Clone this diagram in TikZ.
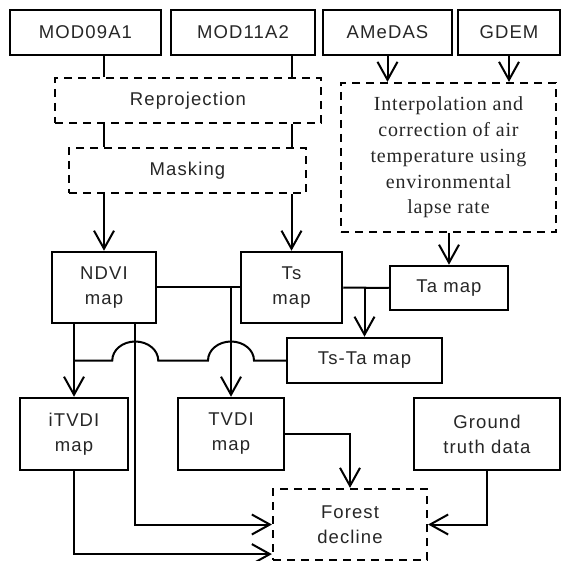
\documentclass[tikz,border=0pt]{standalone}
\usepackage{fontspec}
\setmainfont{Liberation Sans}[LetterSpace=6]
\newfontfamily\interpfont{Liberation Serif}[LetterSpace=4]
\usetikzlibrary{arrows.meta}

\begin{document}
\begin{tikzpicture}[x=1pt,y=-1pt,
    every node/.style={font=\fontsize{18.5}{25}\selectfont,align=center,inner sep=0pt,text=black!85},
    box/.style={draw,line width=2.5pt,minimum height=45pt},
    dbox/.style={box,line width=2.2pt,dash pattern=on 8pt off 6pt},
    link/.style={line width=2pt},
    arr/.style={link,-{Straight Barb[length=18pt,width=20pt]}}]

    \useasboundingbox (0,0) rectangle (562,561);

    \node[box,minimum width=151pt] (mod09) at (85.5,32.5) {MOD09A1};
    \node[box,minimum width=144pt] (mod11) at (243,32.5) {MOD11A2};
    \node[box,minimum width=129pt] (amedas) at (387.5,32.5) {AMeDAS};
    \node[box,minimum width=102pt] (gdem) at (509,32.5) {GDEM};

    \node[dbox,minimum width=266pt] (reproj) at (188,100.5) {Reprojection};
    \node[dbox,minimum width=237pt] (mask) at (187.5,170.5) {Masking};
    \node[dbox,minimum width=215pt,minimum height=149pt,
        font=\interpfont\fontsize{20}{25.8}\selectfont] (interp) at (448.5,157.5)
        {Interpolation and\\correction of air\\temperature using\\environmental\\lapse rate};

    \node[box,minimum width=104pt,minimum height=71pt] (ndvi) at (104,287.5) {NDVI\\map};
    \node[box,minimum width=101pt,minimum height=71pt] (ts) at (291.5,287.5) {Ts\\map};
    \node[box,minimum width=118pt,minimum height=44pt] (tamap) at (449,288) {Ta map};
    \node[box,minimum width=155pt] (tsta) at (364.5,360.5) {Ts-Ta map};

    \node[box,minimum width=108pt,minimum height=72pt] (itvdi) at (74,434) {iTVDI\\map};
    \node[box,minimum width=106pt,minimum height=72pt] (tvdi) at (231,434) {TVDI\\map};
    \node[box,minimum width=146pt,minimum height=72pt] (ground) at (487,434) {Ground\\truth data};
    \node[dbox,minimum width=154pt,minimum height=71pt] (forest) at (350,524.5) {Forest\\decline};

    \draw[link] (mod09.south -| ndvi) to (reproj.north -| ndvi);
    \draw[link] (mod11.south -| ts) to (reproj.north -| ts);
    \draw[link] (reproj.south -| ndvi) to (mask.north -| ndvi);
    \draw[link] (reproj.south -| ts) to (mask.north -| ts);
    \draw[arr] (mask.south -| ndvi) to (ndvi.north);
    \draw[arr] (mask.south -| ts) to (ts.north);
    \draw[arr] (amedas.south) to (interp.north -| amedas);
    \draw[arr] (gdem.south) to (interp.north -| gdem);
    \draw[arr] (interp.south -| tamap) to (tamap.north);

    \draw[link] (ndvi.east) to (ts.west); \draw[link] (ts.east) to (tamap.west);
    \draw[arr] (tsta |- ts.east) to (tsta.north);
    \draw[arr] (tvdi |- ndvi.east) to (tvdi.north);
    \draw[arr] (ndvi.south -| itvdi) to (itvdi.north);

    % line from Ts-Ta map hops over the two verticals
    \coordinate (ndvileg) at ([xshift=-22pt]ndvi.south east);
    \coordinate (hopA) at (tvdi.north |- tsta.west);
    \coordinate (hopB) at (ndvileg |- tsta.west);
    \draw[link] (tsta.west) -- ([xshift=23pt]hopA)
        arc[start angle=0,end angle=-180,x radius=23,y radius=19]
        -- ([xshift=23pt]hopB)
        arc[start angle=0,end angle=-180,x radius=23,y radius=19]
        -- (itvdi.north |- tsta.west);

    \draw[arr] (ndvileg) |- (forest.west);
    \draw[arr] (itvdi.south) |- ([yshift=7pt]forest.south west);
    \draw[arr] (tvdi.east) -| (forest.north);
    \draw[arr] (ground.south) |- (forest.east);
\end{tikzpicture}
\end{document}
